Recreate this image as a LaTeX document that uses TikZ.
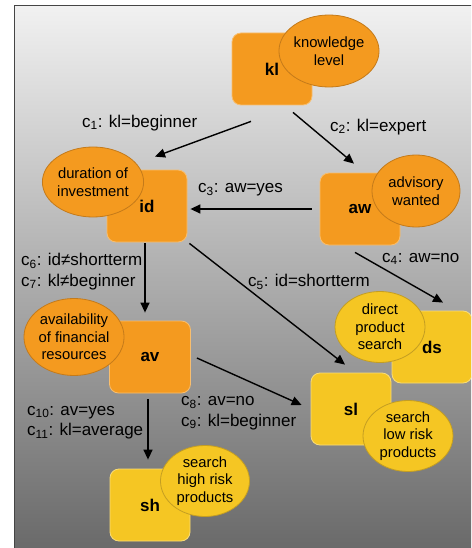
\documentclass[tikz,border=0pt]{standalone}
\usepackage{fontspec}
\setmainfont{Liberation Sans}
\usetikzlibrary{shapes.geometric,arrows.meta}
\definecolor{orng}{HTML}{F49A1F}
\definecolor{orngL}{HTML}{F8BE6E}
\definecolor{orngD}{HTML}{C47A1A}
\definecolor{yell}{HTML}{F5C623}
\definecolor{yellL}{HTML}{F9DC78}
\definecolor{yellD}{HTML}{C49E22}
\definecolor{bgT}{HTML}{F1F1F1}
\definecolor{bgB}{HTML}{696969}
\definecolor{frame}{HTML}{454545}
\tikzset{
  basebox/.style={rectangle, rounded corners=9pt, minimum width=80pt, minimum height=72pt,
    inner sep=0pt, line width=0.8pt, font=\fontsize{17}{20}\selectfont\bfseries},
  obox/.style={basebox, fill=orng, draw=orngL},
  ybox/.style={basebox, fill=yell, draw=yellL},
  baseell/.style={ellipse, inner sep=0pt, line width=0.8pt, align=center,
    font=\fontsize{14.8}{17.5}\selectfont},
  oell/.style={baseell, fill=orng, draw=orngD},
  yell/.style={baseell, fill=yell, draw=yellD},
  lbl/.style={anchor=west, inner sep=0pt, align=left, font=\fontsize{17}{20.5}\selectfont},
  arr/.style={-{Triangle[length=10pt,width=9pt]}, line width=1.4pt, draw=black}
}
\newcommand{\cs}[1]{c\textsubscript{#1}}
\begin{document}
\begin{tikzpicture}[x=1pt,y=-1pt]
\clip (0,0) rectangle (471,548);
\useasboundingbox (0,0) rectangle (471,548);
\shade[top color=bgT, bottom color=bgB] (14,6) rectangle (480,552);
\draw[frame, line width=1pt] (14,560) -- (14,6) -- (480,6);

% boxes
\node[obox] (kl) at (272,69) {kl};
\node[oell, minimum width=89pt, minimum height=72pt] (klE) at (329,51) {knowledge\\level};
\node[obox] (id) at (147,206) {id};
\node[oell, minimum width=90pt, minimum height=70pt] (idE) at (93,182) {duration of\\investment};
\node[obox] (aw) at (360,209) {aw};
\node[oell, minimum width=88pt, minimum height=72pt] (awE) at (416,191) {advisory\\wanted};
\node[obox, minimum width=81pt] (av) at (150,357) {av};
\node[oell, minimum width=97pt, minimum height=77pt] (avE) at (74,337) {availability\\of financial\\resources};
\node[ybox] (ds) at (432,347) {ds};
\node[yell, minimum width=90pt, minimum height=71pt] (dsE) at (380,327) {direct\\product\\search};
\node[ybox] (sl) at (351,409) {sl};
\node[yell, minimum width=90pt, minimum height=71pt] (slE) at (408,436) {search\\low risk\\products};
\node[ybox] (sh) at (150,505) {sh};
\node[yell, minimum width=89pt, minimum height=71pt] (shE) at (205,481) {search\\high risk\\products};

% connectors
\draw[arr] ([shift={(-21,16)}]kl.south) -- ([shift={(8,-13)}]id.north);
\draw[arr] ([shift={(21,7)}]kl.south) -- ([shift={(-6,-9)}]aw.north);
\draw[arr] ([shift={(-8,0)}]aw.west) -- ([shift={(3,3)}]id.east);
\draw[arr] ([shift={(-5,7)}]aw.south) -- ([shift={(11,-8)}]ds.north);
\draw[arr] ([shift={(2,1)}]id.south east) -- ([shift={(-6,-8)}]sl.north);
\draw[arr] ([shift={(-2,1)}]id.south) -- ([shift={(-5,-8)}]av.north);
\draw[arr] ([shift={(6,1)}]av.east) -- ([shift={(-9,-4)}]sl.west);
\draw[arr] ([shift={(-2,6)}]av.south) -- ([shift={(-2,-9)}]sh.north);

% labels
\node[lbl] (l1) at (82,123) {\cs{1}: kl=beginner};
\node[lbl] (l2) at (330,127) {\cs{2}: kl=expert};
\node[lbl] (l3) at (198,190) {\cs{3}: aw=yes};
\node[lbl] (l4) at (382,259) {\cs{4}: aw=no};
\node[lbl] (l5) at (248,282) {\cs{5}: id=shortterm};
\node[lbl] (l67) at (21,271.5) {\cs{6}: id≠shortterm\\\cs{7}: kl≠beginner};
\node[lbl] (l89) at (181,413) {\cs{8}: av=no\\\cs{9}: kl=beginner};
\node[lbl] (l1011) at (27,422.5) {\cs{10}: av=yes\\\cs{11}: kl=average};
\end{tikzpicture}
\end{document}
